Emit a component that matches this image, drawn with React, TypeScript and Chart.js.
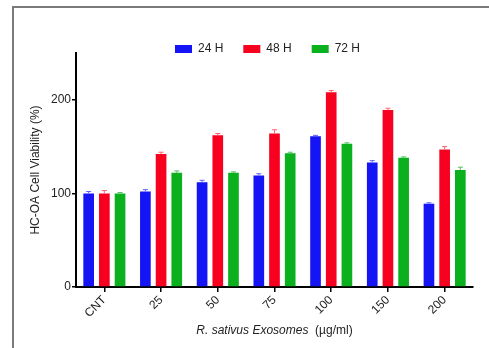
import React, { useEffect, useRef } from "react";
import { Chart, registerables } from "chart.js";

Chart.register(...registerables);

const categories = ["CNT", "25", "50", "75", "100", "150", "200"];
const seriesNames = ["24 H", "48 H", "72 H"];
const values24 = [100, 102, 112, 119, 161, 133, 89];
const values48 = [100, 142, 162, 164, 208, 189, 147];
const values72 = [100, 122, 122, 143, 153, 138, 125];
const err24 = [2, 2, 2, 2, 1, 2, 1];
const err48 = [3, 2, 2, 4, 2, 2, 3];
const err72 = [1, 2, 1, 1, 1, 1, 3];
const yTicks = [0, 100, 200];
const yMax = 250;
const colors = ["#1414F5", "#F80020", "#0AB01E"];
const errColors = ["#6060ff", "#ff6070", "#50c060"];

const FONT = "'Liberation Sans', Arial, Helvetica, sans-serif";

const errorBarPlugin = {
  id: "errorBars",
  afterDatasetsDraw(chart: any) {
    const ctx = chart.ctx;
    const y = chart.scales.y;
    chart.data.datasets.forEach((ds: any, di: number) => {
      const meta = chart.getDatasetMeta(di);
      meta.data.forEach((bar: any, i: number) => {
        const v = ds.data[i];
        const e = ds.errors[i];
        const top = y.getPixelForValue(v + e);
        ctx.save();
        ctx.strokeStyle = errColors[di];
        ctx.lineWidth = 1;
        ctx.beginPath();
        ctx.moveTo(bar.x, bar.y);
        ctx.lineTo(bar.x, top);
        ctx.moveTo(bar.x - 2.5, top);
        ctx.lineTo(bar.x + 2.5, top);
        ctx.stroke();
        ctx.restore();
      });
    });
  },
};

const framePlugin = {
  id: "frame",
  beforeDraw(chart: any) {
    const ctx = chart.ctx;
    ctx.save();
    ctx.strokeStyle = "#7a7a7a";
    ctx.lineWidth = 2;
    ctx.beginPath();
    ctx.moveTo(13, chart.height);
    ctx.lineTo(13, 7);
    ctx.lineTo(chart.width, 7);
    ctx.stroke();
    ctx.restore();
  },
};

const legendPlugin = {
  id: "customLegend",
  afterDraw(chart: any) {
    const ctx = chart.ctx;
    ctx.save();
    ctx.font = `12px ${FONT}`;
    const boxW = 17;
    const boxH = 8;
    const gap = 6;
    const spacing = 20;
    const widths = chart.data.datasets.map(
      (ds: any) => boxW + gap + ctx.measureText(ds.label).width
    );
    const total = widths.reduce((a: number, b: number) => a + b, 0) + spacing * (widths.length - 1);
    const cx = (chart.chartArea.left + chart.chartArea.right) / 2 - 7;
    let x = cx - total / 2;
    const cy = 49;
    chart.data.datasets.forEach((ds: any, i: number) => {
      ctx.fillStyle = ds.backgroundColor;
      ctx.fillRect(x, cy - boxH / 2, boxW, boxH);
      ctx.fillStyle = "#222";
      ctx.textBaseline = "middle";
      ctx.textAlign = "left";
      ctx.fillText(ds.label, x + boxW + gap, cy);
      x += widths[i] + spacing;
    });
    ctx.restore();
  },
};

const xTitlePlugin = {
  id: "xTitle",
  afterDraw(chart: any) {
    const ctx = chart.ctx;
    ctx.save();
    const p1 = "R. sativus Exosomes";
    const p2 = "  (\u00b5g/ml)";
    ctx.font = `italic 12px ${FONT}`;
    const w1 = ctx.measureText(p1).width;
    ctx.font = `12px ${FONT}`;
    const w2 = ctx.measureText(p2).width;
    const cx = (chart.chartArea.left + chart.chartArea.right) / 2;
    const x0 = cx - (w1 + w2) / 2;
    const y = 331;
    ctx.fillStyle = "#222";
    ctx.textBaseline = "middle";
    ctx.textAlign = "left";
    ctx.font = `italic 12px ${FONT}`;
    ctx.fillText(p1, x0, y);
    ctx.font = `12px ${FONT}`;
    ctx.fillText(p2, x0 + w1, y);
    ctx.restore();
  },
};

export default function App() {
  const ref = useRef<HTMLCanvasElement | null>(null);
  useEffect(() => {
    if (!ref.current) return;
    const seriesValues = [values24, values48, values72];
    const seriesErr = [err24, err48, err72];
    const chart = new Chart(ref.current, {
      type: "bar",
      data: {
        labels: categories,
        datasets: seriesNames.map((name, i) => ({
          label: name,
          data: seriesValues[i],
          errors: seriesErr[i],
          backgroundColor: colors[i],
          borderWidth: 0,
          categoryPercentage: 0.83,
          barPercentage: 0.68,
        })) as any,
      },
      options: {
        animation: false,
        responsive: false,
        maintainAspectRatio: false,
        layout: { padding: { top: 53, right: 16, bottom: 0, left: 24 } },
        plugins: {
          legend: { display: false },
          tooltip: { enabled: false },
        },
        scales: {
          x: {
            offset: true,
            grid: {
              display: true,
              drawOnChartArea: false,
              drawTicks: true,
              tickLength: 5,
              color: "#000",
              lineWidth: 1.5,
              offset: false,
            },
            border: { display: true, color: "#000", width: 2 },
            ticks: {
              maxRotation: 45,
              minRotation: 45,
              color: "#222",
              font: { family: FONT, size: 12 },
              padding: 1,
            },
            afterFit(scale: any) {
              scale.height = 61;
            },
          },
          y: {
            min: 0,
            max: yMax,
            grid: {
              display: true,
              drawOnChartArea: false,
              drawTicks: true,
              tickLength: 4,
              color: "#000",
              lineWidth: 1.5,
            },
            border: { display: true, color: "#000", width: 2 },
            ticks: {
              color: "#222",
              font: { family: FONT, size: 12 },
              padding: 1,
            },
            afterBuildTicks(scale: any) {
              scale.ticks = yTicks.map((v) => ({ value: v }));
            },
            title: {
              display: true,
              text: "HC-OA Cell Viability (%)",
              color: "#222",
              font: { family: FONT, size: 12 },
              padding: { top: 4, bottom: 4 },
            },
            afterFit(scale: any) {
              scale.width = 76 - 24;
            },
          },
        },
      },
      plugins: [framePlugin, errorBarPlugin, legendPlugin, xTitlePlugin],
    });
    return () => chart.destroy();
  }, []);
  return (
    <div style={{ position: "fixed", left: 0, top: 0, width: 489, height: 348, background: "#fff" }}>
      <canvas ref={ref} width={489} height={348} style={{ width: 489, height: 348 }} />
    </div>
  );
}
